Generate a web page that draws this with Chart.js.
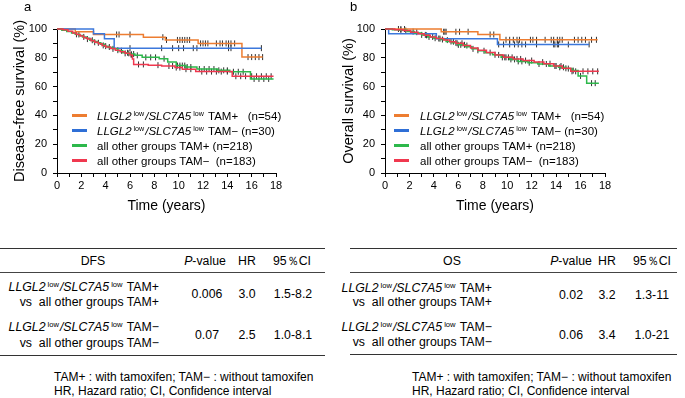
<!DOCTYPE html>
<html><head><meta charset="utf-8">
<script src="https://cdn.jsdelivr.net/npm/chart.js@4.4.1/dist/chart.umd.min.js"></script>
<style>
body{margin:0;background:#fff;}
#fig{position:relative;width:685px;height:398px;background:#fff;font-family:"Liberation Sans",Arial,sans-serif;color:#000;overflow:hidden;}
canvas{position:absolute;top:0;}
.t{position:absolute;white-space:pre;line-height:14px;font-size:12.3px;}
.fn{font-size:12px;}
.c{transform:translateX(-50%);}
.r{text-align:right;}
.lg{position:absolute;white-space:pre;line-height:14px;font-size:11.5px;}
.sw{position:absolute;width:15px;height:3px;}
sup{font-size:0.62em;vertical-align:0;position:relative;top:-0.5em;margin-left:2px;margin-right:1px;font-style:normal;}
.rule{position:absolute;height:0;border-top:1.6px solid #333;}
.rule2{position:absolute;height:0;border-top:1px solid #444;}
.pl{position:absolute;font-size:13px;line-height:14px;}
</style></head>
<body><div id="fig">
<canvas id="c1" width="340" height="216" style="left:0"></canvas>
<canvas id="c2" width="345" height="216" style="left:340px"></canvas>

<div class="pl" style="left:24px;top:0px">a</div>
<div class="pl" style="left:350px;top:0px">b</div>

<!-- legend a -->
<div class="sw" style="left:72px;top:114px;background:#ED7D31"></div>
<div class="sw" style="left:72px;top:129px;background:#2F6FD6"></div>
<div class="sw" style="left:72px;top:144px;background:#2DB84B"></div>
<div class="sw" style="left:72px;top:159px;background:#F0384F"></div>
<div class="lg" style="left:97px;top:108.5px"><i>LLGL2</i><sup>low</sup><i>/SLC7A5</i><sup>low</sup> TAM+   (n=54)</div>
<div class="lg" style="left:97px;top:123.5px"><i>LLGL2</i><sup>low</sup><i>/SLC7A5</i><sup>low</sup> TAM− (n=30)</div>
<div class="lg" style="left:97px;top:138.5px">all other groups TAM+ (n=218)</div>
<div class="lg" style="left:97px;top:153.5px">all other groups TAM−  (n=183)</div>

<!-- legend b -->
<div class="sw" style="left:394px;top:114px;background:#ED7D31"></div>
<div class="sw" style="left:394px;top:129px;background:#2F6FD6"></div>
<div class="sw" style="left:394px;top:144px;background:#2DB84B"></div>
<div class="sw" style="left:394px;top:159px;background:#F0384F"></div>
<div class="lg" style="left:420px;top:108.5px"><i>LLGL2</i><sup>low</sup><i>/SLC7A5</i><sup>low</sup> TAM+   (n=54)</div>
<div class="lg" style="left:420px;top:123.5px"><i>LLGL2</i><sup>low</sup><i>/SLC7A5</i><sup>low</sup> TAM− (n=30)</div>
<div class="lg" style="left:420px;top:138.5px">all other groups TAM+ (n=218)</div>
<div class="lg" style="left:420px;top:153.5px">all other groups TAM−  (n=183)</div>

<!-- table a -->
<div class="rule" style="left:0;width:325px;top:248px"></div>
<div class="rule2" style="left:0;width:325px;top:272px"></div>
<div class="rule" style="left:0;width:325px;top:355px"></div>
<div class="t c" style="left:93px;top:254px">DFS</div>
<div class="t c" style="left:205px;top:254px"><i>P</i>-value</div>
<div class="t c" style="left:247px;top:254px">HR</div>
<div class="t c" style="left:292px;top:254px">95％CI</div>
<div class="t r" style="right:526px;top:280px"><i>LLGL2</i><sup>low</sup><i>/SLC7A5</i><sup>low</sup> TAM+</div>
<div class="t r" style="right:526px;top:295px">vs  all other groups TAM+</div>
<div class="t c" style="left:207px;top:287px">0.006</div>
<div class="t c" style="left:247px;top:287px">3.0</div>
<div class="t c" style="left:293px;top:287px">1.5-8.2</div>
<div class="t r" style="right:526px;top:320px"><i>LLGL2</i><sup>low</sup><i>/SLC7A5</i><sup>low</sup> TAM−</div>
<div class="t r" style="right:526px;top:336px">vs  all other groups TAM−</div>
<div class="t c" style="left:207px;top:328px">0.07</div>
<div class="t c" style="left:247px;top:328px">2.5</div>
<div class="t c" style="left:293px;top:328px">1.0-8.1</div>
<div class="t fn" style="left:54px;top:370px">TAM+ : with tamoxifen; TAM− : without tamoxifen</div>
<div class="t fn" style="left:54px;top:384px">HR, Hazard ratio; CI, Confidence interval</div>

<!-- table b -->
<div class="rule" style="left:350px;width:327px;top:248px"></div>
<div class="rule2" style="left:350px;width:327px;top:272px"></div>
<div class="rule" style="left:350px;width:327px;top:354px"></div>
<div class="t c" style="left:452px;top:254px">OS</div>
<div class="t c" style="left:571px;top:254px"><i>P</i>-value</div>
<div class="t c" style="left:607px;top:254px">HR</div>
<div class="t c" style="left:652px;top:254px">95％CI</div>
<div class="t r" style="right:193px;top:281px"><i>LLGL2</i><sup>low</sup><i>/SLC7A5</i><sup>low</sup> TAM+</div>
<div class="t r" style="right:193px;top:295px">vs  all other groups TAM+</div>
<div class="t c" style="left:571px;top:288px">0.02</div>
<div class="t c" style="left:607px;top:288px">3.2</div>
<div class="t c" style="left:652px;top:288px">1.3-11</div>
<div class="t r" style="right:193px;top:320px"><i>LLGL2</i><sup>low</sup><i>/SLC7A5</i><sup>low</sup> TAM−</div>
<div class="t r" style="right:193px;top:335px">vs  all other groups TAM−</div>
<div class="t c" style="left:571px;top:328px">0.06</div>
<div class="t c" style="left:607px;top:328px">3.4</div>
<div class="t c" style="left:652px;top:328px">1.0-21</div>
<div class="t fn" style="left:412px;top:370px">TAM+ : with tamoxifen; TAM− : without tamoxifen</div>
<div class="t fn" style="left:412px;top:384px">HR, Hazard ratio; CI, Confidence interval</div>
</div>

<script>
// ---------- DATA ----------
const xTicks = [0, 2, 4, 6, 8, 10, 12, 14, 16, 18];
const yTicks = [0, 20, 40, 60, 80, 100];
const seriesNames = ['LLGL2 low/SLC7A5 low TAM+ (n=54)', 'LLGL2 low/SLC7A5 low TAM− (n=30)', 'all other groups TAM+ (n=218)', 'all other groups TAM− (n=183)'];

// Disease-free survival (a)
const dfsOrangeT = [0, 1.5, 3.0, 7.1, 8.9, 11.6, 15.2, 16.9];
const dfsOrangeS = [100, 98.1, 96.2, 94.3, 92.4, 90.0, 80.5, 80.5];
const dfsBlueT = [0, 3.0, 3.9, 4.7, 16.8];
const dfsBlueS = [100, 96.7, 93.3, 86.7, 86.7];
const dfsGreenT = [0,0.4,0.8,1.2,1.5,1.8,2.1,2.4,2.7,3.0,3.3,3.6,3.9,4.2,4.6,5.0,5.4,5.9,6.4,7.0,8.4,9.1,9.8,10.6,11.5,13.2,14.2,15.9,17.8];
const dfsGreenS = [100,99.1,98.2,97.2,96.3,95.4,94.5,93.6,92.2,91.3,90.4,89.4,88.1,87.2,86.2,84.9,83.5,82.6,81.7,80.3,79.4,77.0,74.6,73.6,72.2,71.3,70.3,65.3,65.3];
const dfsRedT = [0,0.5,0.9,1.3,1.6,1.9,2.2,2.5,2.8,3.1,3.4,3.7,4.0,4.4,4.8,5.2,5.6,6.0,6.2,6.3,7.5,8.6,9.7,10.3,11.4,14.4,17.8];
const dfsRedS = [100,99.5,98.4,97.3,96.2,95.1,94.0,93.0,91.9,90.8,89.7,88.6,87.5,86.4,85.3,84.2,83.1,82.0,79.2,75.4,74.9,74.3,73.2,72.1,70.4,67.2,67.2];
// censoring times (a)
const dfsOrangeC = [4.9,5.1,6.0,8.7,9.0,9.9,10.1,10.3,10.5,10.7,10.9,11.8,12.0,12.2,12.4,13.1,13.4,13.6,13.9,14.1,14.3,14.6,15.7,16.0,16.3,16.6,16.9];
const dfsBlueC = [6.0,8.6,9.5,10.0,10.4,11.2,11.5,14.1,14.3,16.8];
const dfsGreenC = [1.6,2.2,2.9,3.4,4.0,4.6,5.3,5.8,6.1,6.3,6.6,7.3,7.7,8.1,8.8,9.9,10.1,10.3,10.5,10.7,11.0,11.7,12.1,12.5,12.9,13.3,13.7,14.0,14.5,14.9,15.3,16.2,16.6,17.0,17.4];
const dfsRedC = [1.8,2.5,3.1,3.8,4.3,5.0,5.6,5.9,6.1,6.7,7.1,8.3,9.2,9.5,9.8,10.1,10.6,11.0,11.9,12.3,12.7,13.1,13.5,14.0,14.7,15.1,15.5,16.0,16.4,16.8,17.2,17.6];

// Overall survival (b)
const osOrangeT = [0, 4.6, 7.6, 9.4, 17.4];
const osOrangeS = [100, 98.1, 96.2, 92.5, 92.5];
const osBlueT = [0, 0.3, 4.2, 9.2, 16.7];
const osBlueS = [100, 96.7, 93.3, 89.3, 89.3];
const osGreenT = [0,0.6,1.2,1.8,2.4,3.0,3.5,4.0,4.5,5.0,5.5,6.0,6.6,7.1,7.6,8.2,8.8,9.5,10.2,10.9,11.7,12.5,13.4,14.2,14.8,15.3,15.8,16.5,17.5];
const osGreenS = [100,99.5,99.1,98.2,97.2,95.9,94.5,93.6,92.7,91.3,90.4,89.0,87.6,86.2,84.9,83.5,82.1,80.3,78.9,77.5,76.6,75.7,74.3,73.4,72.5,71.1,67.4,62.4,62.4];
const osRedT = [0,0.8,1.5,2.1,2.7,3.2,3.7,4.2,4.8,5.3,5.8,6.4,7.0,7.6,8.3,9.0,9.7,10.5,11.3,12.2,13.0,13.8,14.5,15.2,17.5];
const osRedS = [100,99.5,98.9,97.8,96.7,95.6,94.5,93.4,92.3,91.2,90.1,88.5,86.8,85.2,83.6,82.0,80.3,79.2,78.1,77.0,75.9,74.3,72.7,70.6,70.6];
// censoring times (b)
const osOrangeC = [1.1,1.3,1.6,4.8,4.9,5.0,5.8,6.1,6.8,8.6,8.9,9.9,10.2,10.5,10.8,11.0,11.9,12.1,12.4,13.1,13.6,13.8,14.1,14.3,14.5,15.5,15.8,16.1,16.4,16.9,17.3];
const osBlueC = [4.5,9.3,9.7,10.2,10.6,10.9,11.2,11.5,12.4,13.8,13.9,14.1,14.2,15.0,16.7];
const osGreenC = [1.3,2.3,3.0,3.3,3.6,4.1,4.7,5.4,5.8,6.0,6.2,6.5,7.2,8.1,9.0,9.6,9.9,10.3,10.6,10.9,11.2,11.8,12.6,13.2,13.9,14.3,14.6,15.0,15.4,16.0,16.9,17.2];
const osRedC = [1.7,2.6,3.4,3.9,4.4,5.1,5.6,5.9,6.3,6.7,7.6,8.6,9.3,9.8,10.1,10.4,10.8,11.1,11.5,12.0,12.9,13.5,14.0,14.4,14.8,15.3,15.6,16.2,16.6,17.0,17.4];

const colors = ['#ED7D31', '#3C78DC', '#2DB84B', '#F0384F'];
const censorColor = 'rgba(25,25,25,0.9)';

// ---------- helpers ----------
function pts(T, S) { return T.map((t, i) => ({x: t, y: S[i]})); }
function survAt(T, S, t) { let v = S[0]; for (let i = 0; i < T.length; i++) { if (T[i] <= t) v = S[i]; } return v; }
function censorPts(C, T, S) { return C.map(t => ({x: t, y: survAt(T, S, t)})); }

function lineDs(T, S, color, label) {
  return {type: 'line', label, data: pts(T, S), stepped: true, borderColor: color, borderWidth: 1.5, pointRadius: 0, fill: false, clip: false};
}
function censDs(C, T, S) {
  return {type: 'scatter', data: censorPts(C, T, S), showLine: false, pointStyle: 'line', rotation: 90, pointRadius: 3, borderColor: censorColor, borderWidth: 1, clip: false};
}

function makeChart(id, groups, yTitle, yW, padRight, titlePad) {
  const datasets = [];
  [3, 2, 1, 0].forEach(i => datasets.push(lineDs(groups[i][0], groups[i][1], colors[i], seriesNames[i])));
  [3, 2, 1, 0].forEach(i => datasets.push(censDs(groups[i][2], groups[i][0], groups[i][1])));
  new Chart(document.getElementById(id), {
    type: 'line',
    data: {datasets},
    options: {
      responsive: false, animation: false, devicePixelRatio: 1,
      layout: {padding: {left: 0, top: 29, right: padRight, bottom: 0}},
      plugins: {legend: {display: false}, tooltip: {enabled: false}},
      scales: {
        x: {
          type: 'linear', min: 0, max: 18,
          afterFit: s => { s.height = 43; },
          ticks: {stepSize: 1, autoSkip: false, maxRotation: 0, padding: 2, color: '#000',
            font: {family: 'Liberation Sans', size: 11},
            callback: v => xTicks.includes(v) ? String(v) : ''},
          grid: {drawOnChartArea: false, drawTicks: true, tickLength: 4, color: '#000'},
          border: {display: true, color: '#000', width: 1},
          title: {display: true, text: 'Time (years)', color: '#000', font: {family: 'Liberation Sans', size: 14}, padding: {top: 0, bottom: 1}}
        },
        y: {
          min: 0, max: 100,
          afterFit: s => { s.width = yW; },
          ticks: {stepSize: 10, autoSkip: false, padding: 6, color: '#000',
            font: {family: 'Liberation Sans', size: 11},
            callback: v => yTicks.includes(v) ? String(v) : ''},
          grid: {drawOnChartArea: false, drawTicks: true, tickLength: 4, color: '#000'},
          border: {display: true, color: '#000', width: 1},
          title: {display: true, text: yTitle, color: '#000', font: {family: 'Liberation Sans', size: 14.5, lineHeight: 1.2}, padding: {top: titlePad, bottom: 0}}
        }
      }
    }
  });
}

makeChart('c1', [
  [dfsOrangeT, dfsOrangeS, dfsOrangeC],
  [dfsBlueT, dfsBlueS, dfsBlueC],
  [dfsGreenT, dfsGreenS, dfsGreenC],
  [dfsRedT, dfsRedS, dfsRedC]
], 'Disease-free survival (%)', 57, 64, 11);

makeChart('c2', [
  [osOrangeT, osOrangeS, osOrangeC],
  [osBlueT, osBlueS, osBlueC],
  [osGreenT, osGreenS, osGreenC],
  [osRedT, osRedS, osRedC]
], 'Overall survival (%)', 45, 80, 0);
</script>
</body></html>
